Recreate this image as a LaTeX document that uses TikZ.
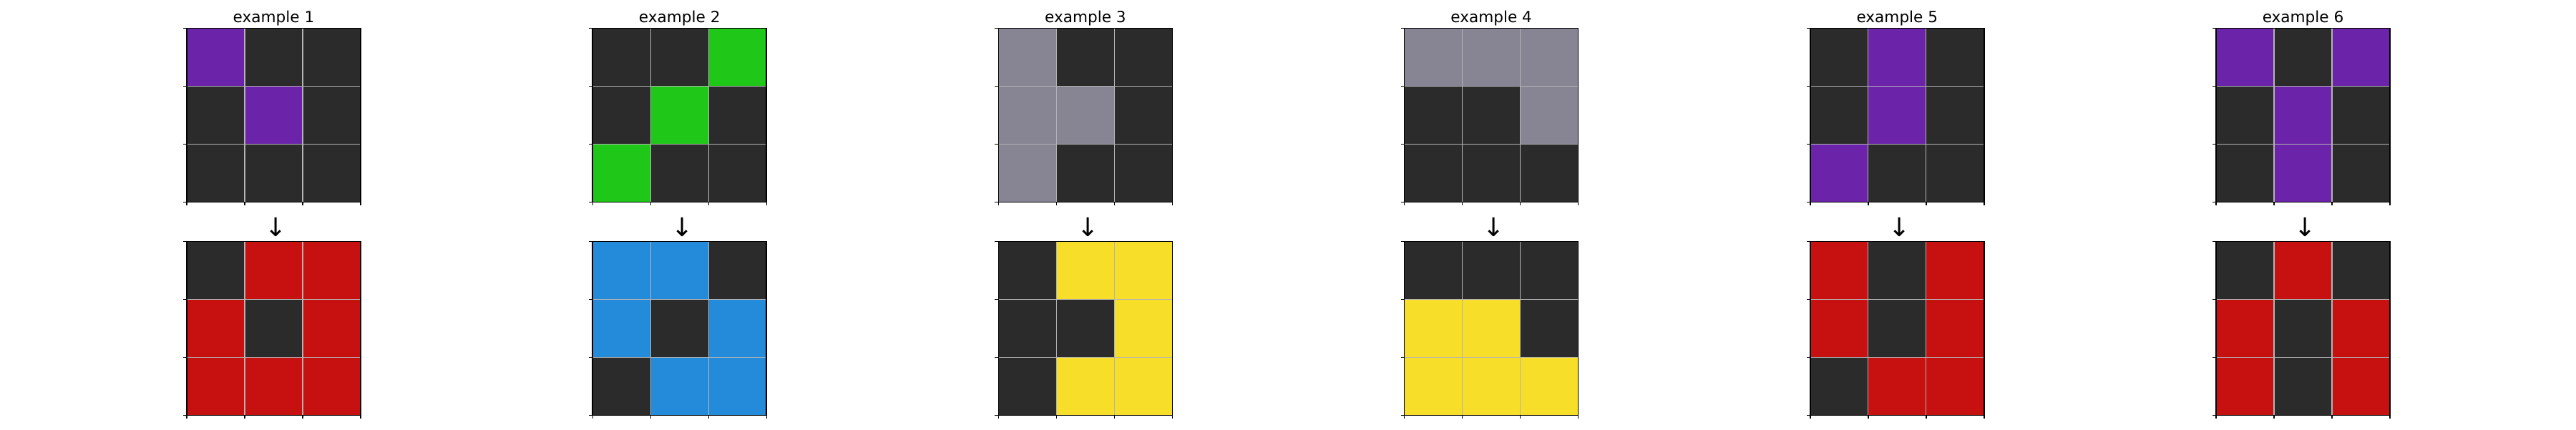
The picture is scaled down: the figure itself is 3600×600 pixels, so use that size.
\documentclass[tikz,border=0pt]{standalone}
\usepackage{fontspec}
\setmainfont{DejaVu Sans}
\definecolor{cD}{HTML}{2B2B2B}
\definecolor{cB}{HTML}{248ADA}
\definecolor{cR}{HTML}{C71010}
\definecolor{cG}{HTML}{1FC719}
\definecolor{cY}{HTML}{F7DE28}
\definecolor{cS}{HTML}{878494}
\definecolor{cP}{HTML}{6B23A9}
\definecolor{gridc}{HTML}{B4B4B4}
\tikzset{
  gridline/.style={draw=gridc, line width=1.1pt},
  frameline/.style={draw=black, line width=1.6pt},
  tickline/.style={draw=black, line width=1.4pt},
  titletext/.style={anchor=base, inner sep=0pt, font=\fontsize{21.6}{26}\selectfont},
  arrowtext/.style={anchor=center, inner sep=0pt, font=\fontsize{36}{40}\selectfont},
}
\newcommand\drawpanelgrid[3]{%
  \foreach \cl [count=\k from 0] in #3 {%
    \pgfmathtruncatemacro\rr{int(\k/3)}%
    \pgfmathtruncatemacro\cc{mod(\k,3)}%
    \fill[\cl] ({#1+\cc*81},{#2+\rr*81}) rectangle ++(81,81);
  }%
  \foreach \t in {1,2} {%
    \draw[gridline] ({#1+\t*81},{#2}) -- ++(0,243);
    \draw[gridline] ({#1},{#2+\t*81}) -- ++(243,0);
  }%
  \foreach \t in {0,1,2,3} {%
    \draw[tickline] ({#1-5},{#2+\t*81}) -- ++(5,0);
    \draw[tickline] ({#1+\t*81},{#2+243}) -- ++(0,5);
  }%
  \draw[frameline] ({#1},{#2}) rectangle ++(243,243);
}
\begin{document}
\begin{tikzpicture}[x=1pt,y=-1pt]
\useasboundingbox (0,0) rectangle (3600,600);
\fill[white] (0,0) rectangle (3600,600);
\foreach \i/\ina/\outa in {
  0/{cP,cD,cD,cD,cP,cD,cD,cD,cD}/{cD,cR,cR,cR,cD,cR,cR,cR,cR},
  1/{cD,cD,cG,cD,cG,cD,cG,cD,cD}/{cB,cB,cD,cB,cD,cB,cD,cB,cB},
  2/{cS,cD,cD,cS,cS,cD,cS,cD,cD}/{cD,cY,cY,cD,cD,cY,cD,cY,cY},
  3/{cS,cS,cS,cD,cD,cS,cD,cD,cD}/{cD,cD,cD,cY,cY,cD,cY,cY,cY},
  4/{cD,cP,cD,cD,cP,cD,cP,cD,cD}/{cR,cD,cR,cR,cD,cR,cD,cR,cR},
  5/{cP,cD,cP,cD,cP,cD,cD,cP,cD}/{cD,cR,cD,cR,cD,cR,cR,cD,cR}} {
  \pgfmathsetmacro\xo{261+567.2*\i}
  \pgfmathtruncatemacro\num{\i+1}
  \drawpanelgrid{\xo}{39.3}{\ina}
  \drawpanelgrid{\xo}{337.3}{\outa}
  \node[titletext] (title\num) at ({\xo+121.5},31.7) {example \num};
  \node[arrowtext] (arrow\num) at ({\xo+125},317) {↓};
}
\end{tikzpicture}
\end{document}
